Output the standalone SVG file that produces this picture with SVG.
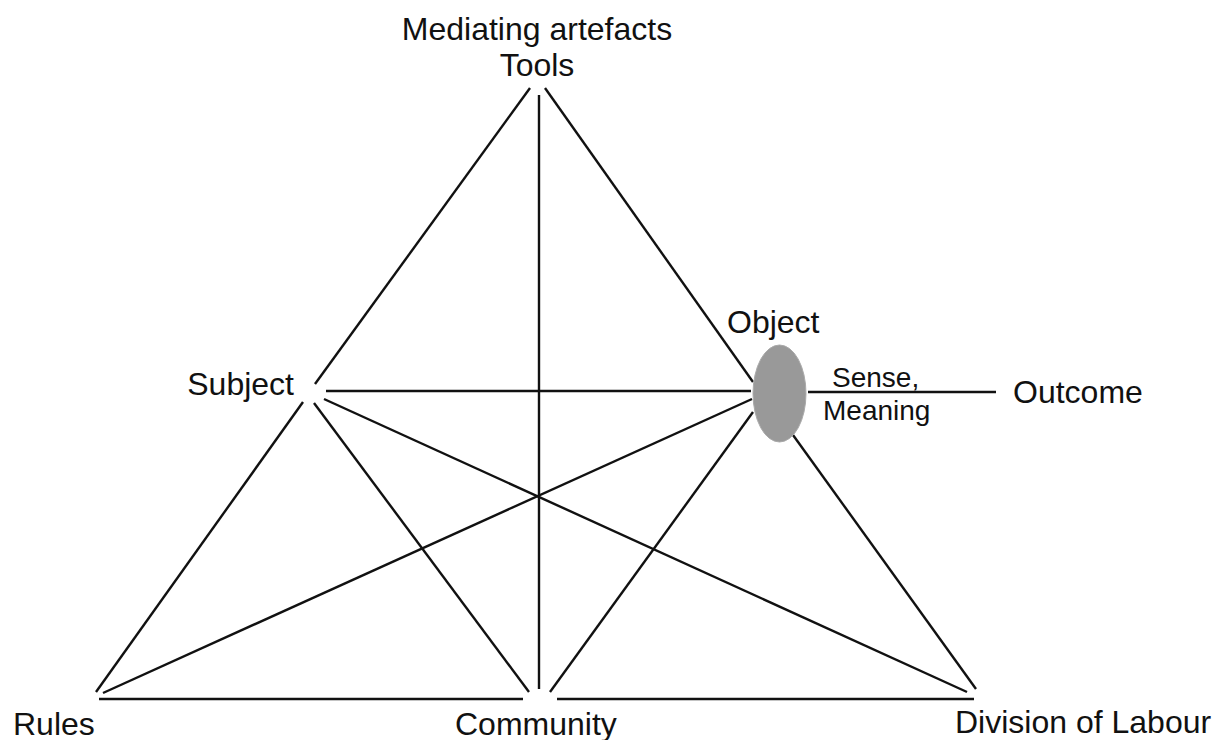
<svg xmlns="http://www.w3.org/2000/svg" width="1225" height="740" viewBox="0 0 1225 740">
<style>
.t{font-family:"Liberation Sans",Arial,sans-serif;font-size:32px;fill:#111}
.s{font-family:"Liberation Sans",Arial,sans-serif;font-size:28px;fill:#111}
.c line{stroke:#111;stroke-width:2.4;stroke-linecap:butt}
</style>
<rect width="1225" height="740" fill="#fff"/>
<g id="connectors" class="c">
<line x1="530" y1="88" x2="315" y2="384"/>
<line x1="545" y1="88" x2="753" y2="382"/>
<line x1="539" y1="95" x2="539" y2="689"/>
<line x1="326" y1="391" x2="751" y2="391"/>
<line x1="303" y1="402" x2="96" y2="692"/>
<line x1="314" y1="403" x2="529" y2="692"/>
<line x1="324" y1="399" x2="967" y2="692"/>
<line x1="752" y1="399" x2="103" y2="693"/>
<line x1="753" y1="412" x2="550" y2="692"/>
<line x1="793" y1="435" x2="976" y2="689"/>
<line x1="99" y1="699" x2="523" y2="699"/>
<line x1="557" y1="699" x2="974" y2="699"/>
<line x1="808" y1="392" x2="996" y2="392"/>
</g>
<g id="tools"><text class="t" x="537" y="40" text-anchor="middle">Mediating artefacts</text><text class="t" x="537" y="76" text-anchor="middle">Tools</text></g>
<g id="subject"><text class="t" x="294" y="395" text-anchor="end">Subject</text></g>
<g id="object"><ellipse cx="779.5" cy="393.5" rx="26.5" ry="48.5" fill="#999" stroke="#aaa" stroke-width="1"/><text class="t" x="727" y="333">Object</text></g>
<g id="sense"><text class="s" x="832" y="387">Sense,</text><text class="s" x="823" y="420">Meaning</text></g>
<g id="outcome"><text class="t" x="1013" y="403">Outcome</text></g>
<g id="rules"><text class="t" x="13" y="735">Rules</text></g>
<g id="community"><text class="t" x="455" y="735">Community</text></g>
<g id="division"><text class="t" x="955" y="733">Division of Labour</text></g>
</svg>
